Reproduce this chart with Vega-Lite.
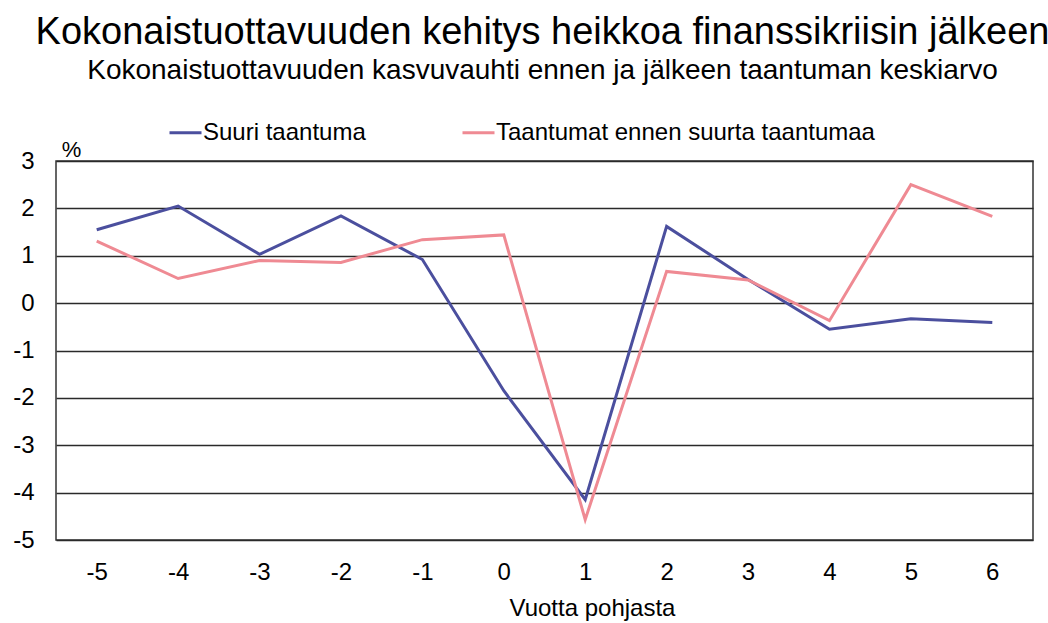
{
  "$schema": "https://vega.github.io/schema/vega-lite/v6.json",
  "autosize": "none",
  "width": 977,
  "height": 379,
  "padding": {"left": 56, "top": 161, "right": 15, "bottom": 83},
  "background": "white",
  "title": {
    "text": "Kokonaistuottavuuden kehitys heikkoa finanssikriisin jälkeen",
    "subtitle": "Kokonaistuottavuuden kasvuvauhti ennen ja jälkeen taantuman keskiarvo",
    "anchor": "middle",
    "dx": -2,
    "offset": 30,
    "font": "Liberation Sans",
    "fontSize": 38,
    "fontWeight": "normal",
    "color": "#000000",
    "subtitleFont": "Liberation Sans",
    "subtitleFontSize": 28,
    "subtitleColor": "#000000",
    "subtitlePadding": 5
  },
  "data": {
    "values": [
      {"v": -5, "s": "Suuri taantuma", "y": 1.55},
      {"v": -4, "s": "Suuri taantuma", "y": 2.05},
      {"v": -3, "s": "Suuri taantuma", "y": 1.03},
      {"v": -2, "s": "Suuri taantuma", "y": 1.84},
      {"v": -1, "s": "Suuri taantuma", "y": 0.92},
      {"v": 0, "s": "Suuri taantuma", "y": -1.85},
      {"v": 1, "s": "Suuri taantuma", "y": -4.15},
      {"v": 2, "s": "Suuri taantuma", "y": 1.62},
      {"v": 3, "s": "Suuri taantuma", "y": 0.5},
      {"v": 4, "s": "Suuri taantuma", "y": -0.55},
      {"v": 5, "s": "Suuri taantuma", "y": -0.33},
      {"v": 6, "s": "Suuri taantuma", "y": -0.41},
      {"v": -5, "s": "Taantumat ennen suurta taantumaa", "y": 1.31},
      {"v": -4, "s": "Taantumat ennen suurta taantumaa", "y": 0.52},
      {"v": -3, "s": "Taantumat ennen suurta taantumaa", "y": 0.9},
      {"v": -2, "s": "Taantumat ennen suurta taantumaa", "y": 0.86},
      {"v": -1, "s": "Taantumat ennen suurta taantumaa", "y": 1.34},
      {"v": 0, "s": "Taantumat ennen suurta taantumaa", "y": 1.44},
      {"v": 1, "s": "Taantumat ennen suurta taantumaa", "y": -4.57},
      {"v": 2, "s": "Taantumat ennen suurta taantumaa", "y": 0.67},
      {"v": 3, "s": "Taantumat ennen suurta taantumaa", "y": 0.49},
      {"v": 4, "s": "Taantumat ennen suurta taantumaa", "y": -0.37},
      {"v": 5, "s": "Taantumat ennen suurta taantumaa", "y": 2.5},
      {"v": 6, "s": "Taantumat ennen suurta taantumaa", "y": 1.83}
    ]
  },
  "mark": {"type": "line", "strokeWidth": 3, "strokeJoin": "miter"},
  "encoding": {
    "x": {
      "field": "v",
      "type": "ordinal",
      "scale": {"padding": 0.5},
      "axis": {
        "title": "Vuotta pohjasta",
        "labelAngle": 0,
        "ticks": false,
        "domain": false,
        "labelPadding": 20,
        "labelFont": "Liberation Sans",
        "labelFontSize": 24,
        "labelColor": "#000000",
        "labelExpr": "'' + datum.value",
        "titleFont": "Liberation Sans",
        "titleFontSize": 24,
        "titleFontWeight": "normal",
        "titleColor": "#000000",
        "titlePadding": 12,
        "titleX": 536
      }
    },
    "y": {
      "field": "y",
      "type": "quantitative",
      "scale": {"domain": [-5, 3], "nice": false, "zero": false},
      "axis": {
        "values": [-5, -4, -3, -2, -1, 0, 1, 2, 3],
        "title": "%",
        "titleAngle": 0,
        "titleX": 15,
        "titleY": -5,
        "titleAlign": "center",
        "titleBaseline": "alphabetic",
        "titleFont": "Liberation Sans",
        "titleFontSize": 22,
        "titleFontWeight": "normal",
        "titleColor": "#000000",
        "ticks": false,
        "domain": false,
        "labelPadding": 22,
        "labelFont": "Liberation Sans",
        "labelFontSize": 24,
        "labelColor": "#000000",
        "labelExpr": "'' + datum.value",
        "grid": true,
        "gridColor": "#2a2a2a",
        "gridWidth": 1.5,
        "gridOpacity": 1
      }
    },
    "color": {
      "field": "s",
      "type": "nominal",
      "scale": {
        "domain": ["Suuri taantuma", "Taantumat ennen suurta taantumaa"],
        "range": ["#4b4f9e", "#ef8a93"]
      },
      "legend": {
        "title": null,
        "orient": "none",
        "direction": "horizontal",
        "legendX": 112,
        "legendY": -46,
        "symbolType": "stroke",
        "symbolSize": 1024,
        "symbolStrokeWidth": 3,
        "labelFont": "Liberation Sans",
        "labelFontSize": 24,
        "labelColor": "#000000",
        "labelOffset": 0,
        "columnPadding": 90,
        "labelLimit": 500
      }
    }
  },
  "config": {
    "view": {"stroke": "#333333", "strokeWidth": 1.5}
  }
}
